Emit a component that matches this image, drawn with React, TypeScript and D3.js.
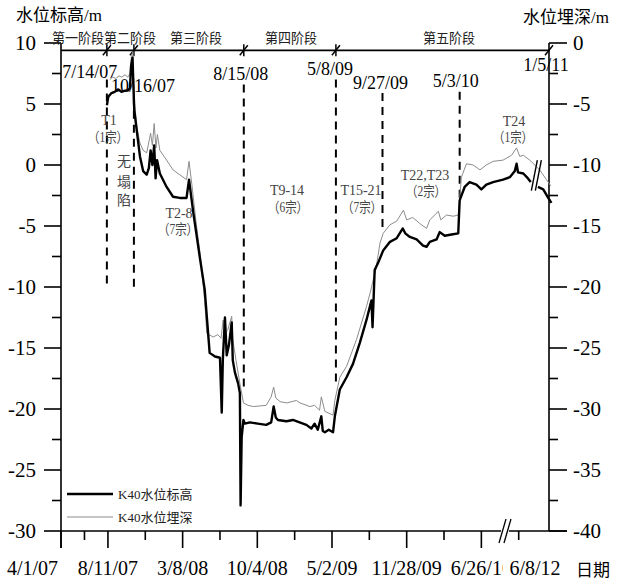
import React from "react";
import * as d3 from "d3";

const parse = d3.utcParse("%Y-%m-%d");
const parseMdy = d3.utcParse("%m/%d/%y");

// K40 水位标高 (m), black line, left axis. null = break in the record
const elevation: [string, number | null][] = [
  ["2007-08-08", 4.9], ["2007-08-12", 5.6], ["2007-08-21", 5.9], ["2007-08-30", 6.0],
  ["2007-09-09", 6.2], ["2007-09-18", 6.0], ["2007-09-28", 6.1], ["2007-10-06", 6.1],
  ["2007-10-12", 6.3], ["2007-10-15", 8.1], ["2007-10-19", 8.8], ["2007-10-24", 4.5],
  ["2007-11-01", 2.6], ["2007-11-09", 0.7], ["2007-11-18", -0.5], ["2007-11-28", -0.8],
  ["2007-12-04", -0.25], ["2007-12-09", 1.2], ["2007-12-14", 0.0], ["2007-12-19", 1.6],
  ["2007-12-23", -1.1], ["2007-12-27", 0.4], ["2008-01-04", -0.7], ["2008-01-23", -1.8],
  ["2008-02-10", -2.6], ["2008-02-29", -2.7], ["2008-03-19", -2.7], ["2008-03-26", -1.2],
  ["2008-04-07", -3.9], ["2008-04-25", -7.5], ["2008-05-09", -10.2], ["2008-05-23", -15.4],
  ["2008-06-07", -15.7], ["2008-06-21", -15.8], ["2008-06-26", -20.3], ["2008-06-29", -16.0],
  ["2008-07-05", -12.5], ["2008-07-10", -15.6], ["2008-07-16", -14.8], ["2008-07-24", -12.9],
  ["2008-07-27", -16.0], ["2008-08-02", -17.0], ["2008-08-11", -17.9], ["2008-08-16", -18.7],
  ["2008-08-18", -27.9], ["2008-08-21", -22.3], ["2008-08-26", -20.9], ["2008-08-30", -21.2],
  ["2008-09-13", -21.1], ["2008-10-05", -21.2], ["2008-10-29", -21.3], ["2008-11-12", -21.1],
  ["2008-11-19", -19.8], ["2008-11-25", -20.7], ["2008-12-01", -20.9], ["2008-12-25", -21.0],
  ["2009-01-12", -20.9], ["2009-01-31", -21.1], ["2009-02-19", -21.3], ["2009-03-05", -21.6],
  ["2009-03-14", -21.2], ["2009-03-23", -21.7], ["2009-04-02", -20.6], ["2009-04-06", -21.8],
  ["2009-04-12", -21.9], ["2009-04-23", -21.7], ["2009-05-05", -21.9], ["2009-05-10", -20.6],
  ["2009-05-24", -18.4], ["2009-06-12", -17.4], ["2009-06-30", -16.3], ["2009-07-19", -14.6],
  ["2009-08-07", -12.7], ["2009-08-21", -11.1], ["2009-08-24", -13.3], ["2009-08-30", -8.6],
  ["2009-09-09", -8.0], ["2009-09-23", -7.0], ["2009-10-12", -6.3], ["2009-10-31", -6.0],
  ["2009-11-17", -5.2], ["2009-11-24", -5.6], ["2009-12-07", -5.9], ["2009-12-26", -6.1],
  ["2010-01-13", -6.6], ["2010-01-23", -6.7], ["2010-02-01", -6.3], ["2010-02-20", -6.1],
  ["2010-03-01", -5.5], ["2010-03-15", -5.8], ["2010-04-03", -5.7], ["2010-04-22", -5.6],
  ["2010-04-26", -2.9], ["2010-05-10", -1.8], ["2010-05-24", -1.4], ["2010-06-12", -1.6],
  ["2010-06-26", -2.0], ["2010-07-10", -1.6], ["2010-07-29", -1.4], ["2010-08-26", -1.2],
  ["2010-09-14", -1.0], ["2010-09-28", -0.5], ["2010-10-03", 0.1], ["2010-10-07", -0.6],
  ["2010-10-22", -0.7], ["2010-11-04", -1.1], ["2010-11-12", -1.4], ["2010-11-22", null],
  ["2010-12-02", -1.8], ["2010-12-17", -2.0], ["2010-12-31", -2.7], ["2011-01-09", -3.1],
];

// K40 水位埋深 (m), grey line, right axis
const depth: [string, number][] = [
  ["2007-08-16", -3.0], ["2007-08-24", -2.8], ["2007-09-02", -2.9], ["2007-09-11", -2.7],
  ["2007-09-19", -2.8], ["2007-09-28", -2.6], ["2007-10-06", -2.8], ["2007-10-12", -2.5],
  ["2007-10-16", -1.1], ["2007-10-20", -0.7], ["2007-10-24", -4.7], ["2007-11-01", -7.0],
  ["2007-11-09", -8.2], ["2007-11-18", -8.8], ["2007-11-28", -9.0], ["2007-12-09", -7.4],
  ["2007-12-14", -8.4], ["2007-12-19", -6.6], ["2007-12-24", -8.6], ["2007-12-28", -7.5],
  ["2008-01-04", -8.8], ["2008-01-23", -9.6], ["2008-02-10", -10.4], ["2008-02-29", -10.8],
  ["2008-03-19", -11.2], ["2008-03-26", -9.7], ["2008-04-03", -11.6], ["2008-04-14", -14.5],
  ["2008-04-25", -17.0], ["2008-05-09", -21.1], ["2008-05-15", -23.8], ["2008-06-02", -24.1],
  ["2008-06-15", -23.9], ["2008-06-24", -24.2], ["2008-06-30", -22.7], ["2008-07-05", -23.8],
  ["2008-07-13", -23.5], ["2008-07-24", -22.4], ["2008-07-27", -24.3], ["2008-08-05", -26.0],
  ["2008-08-16", -27.9], ["2008-08-26", -29.5], ["2008-09-08", -29.7], ["2008-09-23", -29.8],
  ["2008-10-11", -29.75], ["2008-10-29", -29.7], ["2008-11-12", -29.0], ["2008-11-19", -28.2],
  ["2008-11-25", -29.1], ["2008-12-07", -29.4], ["2008-12-26", -29.5], ["2009-01-22", -29.3],
  ["2009-02-01", -29.5], ["2009-03-01", -29.8], ["2009-03-14", -29.7], ["2009-03-28", -30.1],
  ["2009-04-02", -29.0], ["2009-04-12", -30.2], ["2009-05-05", -30.5], ["2009-05-10", -29.3],
  ["2009-05-24", -27.4], ["2009-06-12", -26.5], ["2009-07-10", -24.3], ["2009-08-07", -21.6],
  ["2009-08-18", -20.4], ["2009-08-26", -19.4], ["2009-09-02", -18.6], ["2009-09-14", -16.4],
  ["2009-09-23", -15.6], ["2009-10-12", -14.9], ["2009-10-31", -14.6], ["2009-11-19", -13.7],
  ["2009-11-28", -14.5], ["2009-12-15", -14.3], ["2010-01-04", -14.8], ["2010-01-23", -15.2],
  ["2010-02-01", -14.5], ["2010-02-25", -13.8], ["2010-03-04", -14.5], ["2010-03-20", -14.1],
  ["2010-04-08", -14.2], ["2010-04-22", -14.1], ["2010-05-01", -11.0], ["2010-05-15", -9.9],
  ["2010-06-03", -10.0], ["2010-06-22", -10.4], ["2010-07-10", -10.0], ["2010-07-29", -9.7],
  ["2010-08-26", -9.6], ["2010-09-19", -9.2], ["2010-10-03", -8.6], ["2010-10-12", -9.3],
  ["2010-10-22", -9.2], ["2010-11-09", -9.6], ["2010-12-07", -10.4], ["2010-12-26", -11.2],
  ["2011-01-07", -11.7],
];

const xTickLabels = ["4/1/07", "8/11/07", "3/8/08", "10/4/08", "5/2/09", "11/28/09", "6/26/10"];
const xMinorTicks = ["6/6/07", "11/24/07", "6/21/08", "1/17/09", "8/15/09", "3/13/10", "10/9/10"];
const leftTicks = [10, 5, 0, -5, -10, -15, -20, -25, -30];
const leftMinor = [7.5, 2.5, -2.5, -7.5, -12.5, -17.5, -22.5, -27.5];
const rightTicks = [0, -5, -10, -15, -20, -25, -30, -35, -40];
const rightMinor = [-2.5, -7.5, -12.5, -17.5, -22.5, -27.5, -32.5, -37.5];

const stageNames = ["第一阶段", "第二阶段", "第三阶段", "第四阶段", "第五阶段"];
// stage boundaries on the timeline (label, where it sits on the axis)
const markers = [
  { label: "7/14/07", at: "2007-08-08", top: 7.0, bottom: -10 },
  { label: "10/16/07", at: "2007-10-23", top: 5.6, bottom: -10 },
  { label: "8/15/08", at: "2008-08-27", top: 6.6, bottom: -18.5 },
  { label: "5/8/09", at: "2009-05-13", top: 7.0, bottom: -18 },
  { label: "9/27/09", at: "2009-09-21", top: 5.9, bottom: -5.5 },
  { label: "5/3/10", at: "2010-04-26", top: 6.0, bottom: -3 },
];
const endMarker = { label: "1/5/11", at: "2011-01-05" };
const collapses = [
  ["T1", "（1宗）"], ["T2-8", "（7宗）"], ["T9-14", "（6宗）"],
  ["T15-21", "（7宗）"], ["T22,T23", "（2宗）"], ["T24", "（1宗）"],
];

const serif = "'Liberation Serif', 'Times New Roman', 'Noto Sans CJK SC', serif";

const x = d3.scaleUtc().domain([parseMdy("4/1/07")!, parseMdy("1/5/11")!]).range([61, 550]);
const yL = d3.scaleLinear().domain([-30, 10]).range([531, 43]);
const yR = d3.scaleLinear().domain([-40, 0]).range([531, 43]);

export default function App() {
  const [x0, x1] = x.range();
  const yBottom = yL(-30);
  const yTop = yL(10);
  const timelineY = yL(9.4);

  const elevLine = d3
    .line<[string, number | null]>()
    .defined((d) => d[1] !== null)
    .x((d) => x(parse(d[0])!))
    .y((d) => yL(d[1] as number));
  const depthLine = d3
    .line<[string, number]>()
    .x((d) => x(parse(d[0])!))
    .y((d) => yR(d[1]));

  const annoPos = [
    [109, 125, 108, 142], [179, 218, 178, 234], [287, 195, 288, 212],
    [361, 195, 362, 212], [425, 180, 426, 196], [514, 126, 513, 142],
  ];
  const labelOffsets = [[-17, 78], [9, 92], [-3, 80], [-6, 75], [-2, 89], [-4, 87]];
  const stageX = [78, 130, 196, 291, 449];

  const breakX = x(parse("2010-11-22")!);
  const tick = (xx: number, y: number) => (
    <g>
      <line x1={xx} y1={y - 6} x2={xx} y2={y + 6} stroke="#000" strokeWidth={1.5} />
      <line x1={xx - 4} y1={y + 5} x2={xx + 4} y2={y - 5} stroke="#000" strokeWidth={1.5} />
    </g>
  );

  return (
    <svg
      width={620}
      height={582}
      style={{ position: "absolute", left: 0, top: 0, background: "#fff" }}
      fontFamily={serif}
    >
      {/* axis titles */}
      <text x={16} y={21} fontSize={17}>水位标高/m</text>
      <text x={523} y={23} fontSize={17}>水位埋深/m</text>
      <text x={576} y={576} fontSize={17}>日期</text>

      {/* left axis */}
      <line x1={x0} y1={yTop} x2={x0} y2={yBottom + 17} stroke="#000" strokeWidth={1.6} />
      {leftTicks.map((v) => (
        <g key={"l" + v}>
          <line x1={x0 - 17} x2={x0} y1={yL(v)} y2={yL(v)} stroke="#000" strokeWidth={1.6} />
          <text x={36} y={yL(v)} dy="0.35em" textAnchor="end" fontSize={21}>{v}</text>
        </g>
      ))}
      {leftMinor.map((v) => (
        <line key={"lm" + v} x1={x0 - 9} x2={x0} y1={yL(v)} y2={yL(v)} stroke="#000" strokeWidth={1.6} />
      ))}

      {/* right axis */}
      <line x1={x1 - 1} y1={yTop} x2={x1 - 1} y2={yBottom} stroke="#000" strokeWidth={1.6} />
      {rightTicks.map((v) => (
        <g key={"r" + v}>
          <line x1={x1 - 1} x2={x1 + 17} y1={yR(v)} y2={yR(v)} stroke="#000" strokeWidth={1.6} />
          <text x={573} y={yR(v)} dy="0.35em" fontSize={21}>{v}</text>
        </g>
      ))}
      {rightMinor.map((v) => (
        <line key={"rm" + v} x1={x1 - 1} x2={x1 + 8} y1={yR(v)} y2={yR(v)} stroke="#000" strokeWidth={1.6} />
      ))}

      {/* bottom axis */}
      <line x1={x0} x2={x1 + 17} y1={yBottom} y2={yBottom} stroke="#000" strokeWidth={1.6} />
      {xTickLabels.map((t, i) => {
        const xx = x(parseMdy(t)!);
        return (
          <g key={t}>
            <line x1={xx} x2={xx} y1={yBottom} y2={yBottom + 17} stroke="#000" strokeWidth={1.6} />
            <text x={i === 0 ? xx - 3 : xx} y={575} textAnchor={i === 0 ? "end" : "middle"} fontSize={20}>{t}</text>
          </g>
        );
      })}
      {xMinorTicks.map((t) => {
        const xx = x(parseMdy(t)!);
        return <line key={t} x1={xx} x2={xx} y1={yBottom} y2={yBottom + 9} stroke="#000" strokeWidth={1.6} />;
      })}
      {/* axis break and the 2012 end label */}
      <rect x={501} y={yBottom - 3} width={8} height={6} fill="#fff" />
      <line x1={499} y1={yBottom + 12} x2={506} y2={yBottom - 12} stroke="#000" strokeWidth={1.3} />
      <line x1={504} y1={yBottom + 12} x2={511} y2={yBottom - 12} stroke="#000" strokeWidth={1.3} />
      <rect x={503} y={558} width={66} height={22} fill="#fff" />
      <text x={535} y={575} textAnchor="middle" fontSize={20}>6/8/12</text>

      {/* timeline on top */}
      <line x1={x0} x2={x1} y1={timelineY} y2={timelineY} stroke="#000" strokeWidth={1.8} />
      {stageNames.map((s, i) => (
        <text key={s} x={stageX[i]} y={43} textAnchor="middle" fontSize={14} textLength={52} lengthAdjust="spacingAndGlyphs" fill="#222">{s}</text>
      ))}
      {markers.map((m) => <g key={"t" + m.label}>{tick(x(parse(m.at)!), timelineY)}</g>).filter((_, i) => i !== 4 && i !== 5)}
      <line x1={x1 - 5} y1={timelineY + 5} x2={x1 + 3} y2={timelineY - 5} stroke="#000" strokeWidth={1.5} />
      <text x={x1 - 4} y={71} textAnchor="middle" fontSize={18}>{endMarker.label}</text>

      {/* stage boundaries */}
      {markers.map((m, i) => {
        const xx = x(parse(m.at)!);
        return (
          <g key={m.label}>
            <line x1={xx} x2={xx} y1={yL(m.top)} y2={yL(m.bottom)} stroke="#000" strokeWidth={2} strokeDasharray="8,6" />
            <text x={xx + labelOffsets[i][0]} y={labelOffsets[i][1]} textAnchor="middle" fontSize={18}>{m.label}</text>
          </g>
        );
      })}

      {/* series */}
      <path d={depthLine(depth) ?? ""} fill="none" stroke="#8c8c8c" strokeWidth={1} />
      <path d={elevLine(elevation) ?? ""} fill="none" stroke="#000" strokeWidth={2.4} strokeLinejoin="round" />
      <line x1={breakX - 3} y1={yL(-2.1)} x2={breakX + 3} y2={yL(0.4)} stroke="#000" strokeWidth={1.4} />
      <line x1={breakX + 1} y1={yL(-2.1)} x2={breakX + 7} y2={yL(0.4)} stroke="#000" strokeWidth={1.4} />

      {/* collapse annotations */}
      {collapses.map(([a, b], i) => (
        <g key={a} fill="#444">
          <text x={annoPos[i][0]} y={annoPos[i][1]} textAnchor="middle" fontSize={14}>{a}</text>
          <text x={annoPos[i][2]} y={annoPos[i][3]} textAnchor="middle" fontSize={14} textLength={40} lengthAdjust="spacingAndGlyphs">{b}</text>
        </g>
      ))}
      {["无", "塌", "陷"].map((c, i) => (
        <text key={c} x={124} y={[166, 187, 205][i]} textAnchor="middle" fontSize={14} fill="#444">{c}</text>
      ))}

      {/* legend */}
      <line x1={67} x2={113} y1={494} y2={494} stroke="#000" strokeWidth={2.4} />
      <text x={118} y={499} fontSize={13} fill="#222">K40水位标高</text>
      <line x1={67} x2={113} y1={517} y2={517} stroke="#8c8c8c" strokeWidth={1} />
      <text x={118} y={522} fontSize={13} fill="#222">K40水位埋深</text>
    </svg>
  );
}
